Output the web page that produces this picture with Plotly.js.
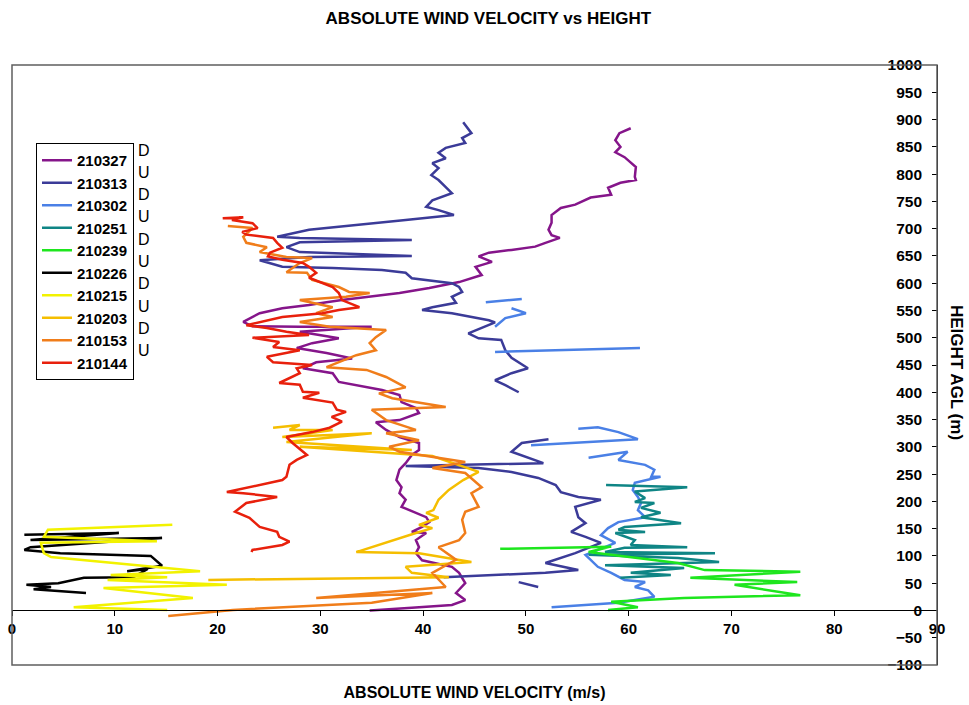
<!DOCTYPE html>
<html>
<head>
<meta charset="utf-8">
<script src="https://cdn.plot.ly/plotly-3.0.1.min.js"></script>
<style>html,body{margin:0;padding:0;background:#fff;}#chart{width:969px;height:705px;}</style>
</head>
<body>
<div id="chart"></div>
<script>
// ---- data (velocity m/s, height m) ----
const seriesNames = ['210327','210313','210302','210251','210239','210226','210215','210203','210153','210144'];
const dirLabels = ['D','U','D','U','D','U','D','U','D','U'];

const vel_210327 = [60.2,59.1,58.7,59.2,58.7,59.6,60.7,60.6,60.7,59.2,58.0,58.3,56.3,54.8,53.4,52.5,52.5,52.2,52.5,53.3,51.9,50.9,48.6,46.4,45.4,46.7,45.1,45.7,43.5,40.6,37.7,34.5,32.1,30.6,28.9,26.3,24.1,22.5,23.4,28.0,35.0,28.0,31.8,29.2,27.7,30.6,33.1,29.6,28.3,31.2,31.8,36.0,37.7,37.9,39.3,39.6,37.7,35.4,36.4,37.7,39.6,39.6,38.9,38.3,37.7,37.4,37.9,37.7,38.3,37.9,39.3,40.3,40.6,39.9,38.9,40.3,39.3,39.6,39.3,39.9,42.8,43.5,44.1,43.2,44.1,42.8,38.9,34.8];
const hgt_210327 = [884,875,862,850,840,831,813,795,789,784,775,762,757,744,738,725,711,698,688,683,674,667,661,656,649,639,630,615,602,591,582,575,569,565,560,554,545,529,521,520,520,511,499,490,481,472,462,455,444,435,419,404,395,382,371,362,349,345,331,318,307,294,285,270,258,239,226,215,203,190,179,171,162,153,144,142,129,116,105,92,80,69,50,32,19,10,5,0];

const vel_210313 = [43.9,44.7,43.8,44.1,42.2,41.5,42.2,40.9,41.5,40.8,41.5,42.2,42.8,40.9,40.3,41.5,43.0,38.3,33.8,28.9,25.8,28.0,38.9,28.0,26.7,28.0,38.9,28.9,24.1,26.3,31.2,36.0,38.3,38.9,42.8,43.5,43.8,42.8,43.2,40.9,39.9,42.8,46.4,47.0,44.4,45.4,47.6,48.0,48.6,50.2,48.6,47.0,48.0,49.3,null,52.2,49.6,48.6,50.0,51.7,38.3,45.4,48.6,51.2,52.9,53.4,55.1,57.3,54.8,55.1,55.8,54.4,55.8,57.3,54.8,51.9,55.1,51.9,42.0,null,49.3,51.2];
const hgt_210313 = [895,875,866,857,848,839,829,820,811,798,789,776,765,752,740,734,725,716,707,698,685,683,679,675,666,657,650,648,642,630,628,624,619,609,600,593,584,575,564,556,551,545,532,528,508,499,496,477,463,444,435,422,413,400,null,314,307,291,281,270,265,261,254,243,230,217,208,203,190,171,160,144,135,124,105,87,74,69,61,null,52,43];

const vel_210302 = [46.1,49.6,null,48.6,50.0,48.0,47.0,null,47.0,61.1,null,55.1,57.0,59.0,60.9,50.5,null,56.1,59.9,59.0,61.6,62.5,62.2,63.1,60.6,60.4,60.9,61.2,60.9,61.6,59.0,58.0,57.3,58.7,57.7,55.8,57.0,58.3,59.6,61.6,60.6,61.9,62.5,59.0,52.5];
const hgt_210302 = [565,571,null,554,545,536,520,null,474,481,null,333,336,327,314,303,null,280,291,276,267,258,245,245,234,221,208,197,184,171,162,151,138,124,116,102,80,69,56,52,43,37,25,14,6];

const vel_210251 = [57.8,65.7,60.6,61.6,60.6,62.5,61.2,63.1,61.2,65.1,59.6,59.0,61.6,58.7,60.6,60.2,65.7,59.6,57.7,68.4,56.1,64.8,68.8,57.7,65.4,60.2,64.1,59.2];
const hgt_210251 = [230,226,218,206,199,197,188,179,171,160,153,148,144,142,129,120,116,115,107,105,102,96,89,83,78,69,65,60];

const vel_210239 = [47.5,58.3,56.1,59.9,64.8,67.4,76.7,66.0,76.4,70.3,73.5,76.7,65.4,58.3,60.9,58.0];
const hgt_210239 = [113,117,107,98,87,74,71,60,52,47,37,28,23,16,6,1];

const vel_210226 = [1.2,10.4,1.8,14.6,1.8,1.2,4.7,13.5,14.6,11.2,13.2,11.8,7.0,4.5,1.4,3.8,2.1,7.2];
const hgt_210226 = [139,142,129,133,116,111,105,100,82,72,76,61,60,50,47,43,39,32];

const vel_210215 = [15.6,3.5,3.1,14.1,2.8,3.1,3.8,14.4,18.3,9.6,15.1,9.3,20.9,8.9,17.6,6.0,15.1];
const hgt_210215 = [157,148,135,127,124,105,98,80,72,65,61,56,47,41,23,6,1];

const vel_210203 = [25.4,28.0,27.0,31.2,26.3,35.0,26.7,38.9,28.0,40.9,45.4,43.9,42.5,41.5,41.0,40.3,41.5,39.6,40.9,39.3,33.5,39.6,44.7,38.3,38.9,42.5,19.1];
const hgt_210203 = [335,340,331,331,318,325,309,294,300,283,254,239,221,203,184,179,170,157,151,142,107,105,89,80,69,61,56];

const vel_210153 = [21.0,23.4,22.5,22.8,24.8,24.1,26.7,29.2,28.0,26.7,28.7,29.2,31.8,32.8,34.8,32.5,28.0,31.2,29.6,31.2,28.0,30.9,36.4,35.4,34.8,35.4,33.5,30.6,34.5,36.4,38.3,35.7,37.0,42.2,35.0,36.4,39.3,36.4,39.6,36.7,37.7,44.1,40.9,44.1,45.7,44.7,45.4,44.1,43.8,44.1,43.5,41.5,43.2,40.9,42.2,29.6,40.9,35.0,21.5,18.3,15.2];
const hgt_210153 = [705,701,685,674,666,657,648,646,637,620,619,606,593,584,582,575,569,556,545,538,529,520,514,501,490,477,468,446,441,428,409,398,389,373,368,349,331,325,312,300,291,272,261,252,226,215,190,181,166,142,129,116,93,69,43,23,32,14,1,-5,-10];

const vel_210144 = [20.5,22.5,21.4,23.4,23.9,22.4,22.8,25.4,25.8,26.3,25.1,24.9,26.3,28.3,28.9,29.6,28.9,29.9,31.2,31.8,32.1,33.8,31.8,30.2,26.3,22.8,24.8,26.7,28.9,23.4,26.0,25.4,28.0,24.8,25.4,29.2,27.7,28.0,26.0,28.0,28.3,29.9,28.3,31.2,31.6,32.5,31.1,32.1,30.9,29.2,26.7,27.3,28.7,27.7,27.0,26.7,26.3,20.9,22.5,25.8,22.8,21.7,23.1,24.1,25.8,26.0,27.0,26.3,23.4,23.3];
const hgt_210144 = [719,721,716,710,701,694,689,683,674,665,656,649,643,637,630,619,610,602,593,582,569,556,551,545,538,523,518,511,505,500,492,483,477,465,455,450,444,435,417,414,401,399,390,381,368,364,355,346,335,327,318,307,285,276,267,245,239,217,215,208,197,181,170,153,144,135,126,120,111,107];

const xTickVals = [0,10,20,30,40,50,60,70,80,90];

// ---- styling ----
const colors = ['#85158a','#3b3b98','#4a80e6','#0f8585','#1ee61e','#000000','#f2f200','#f5be00','#f07d1a','#e8200c'];
const velData = [vel_210327,vel_210313,vel_210302,vel_210251,vel_210239,vel_210226,vel_210215,vel_210203,vel_210153,vel_210144];
const hgtData = [hgt_210327,hgt_210313,hgt_210302,hgt_210251,hgt_210239,hgt_210226,hgt_210215,hgt_210203,hgt_210153,hgt_210144];

const FONT = 'Liberation Sans, Arial, sans-serif';

const traces = seriesNames.map((n, i) => ({
  type: 'scatter', mode: 'lines', name: n, legendgroup: n,
  x: velData[i], y: hgtData[i],
  line: {color: colors[i], width: 2.5},
  connectgaps: false, hoverinfo: 'skip'
}));

// plot area in pixels: left 12, right 937, top 65, bottom 665
const annotations = dirLabels.map((t, i) => ({
  text: t, xref: 'paper', yref: 'paper',
  x: (144 - 12) / 925, y: (665 - (150 + i * 22.3)) / 600,
  xanchor: 'center', yanchor: 'middle', showarrow: false,
  font: {family: FONT, size: 16, color: '#000'}
}));
annotations.push({
  text: 'HEIGHT AGL (m)', xref: 'paper', yref: 'paper',
  x: (957 - 12) / 925, y: (665 - 372) / 600, textangle: 90,
  xanchor: 'center', yanchor: 'middle', showarrow: false,
  font: {family: FONT, size: 17, weight: 'bold', color: '#000'}
});

const layout = {
  width: 969, height: 705,
  margin: {l: 12, r: 32, t: 65, b: 40, pad: 0},
  paper_bgcolor: '#fff', plot_bgcolor: '#fff',
  font: {family: FONT, color: '#000'},
  title: {
    text: 'ABSOLUTE WIND VELOCITY vs HEIGHT',
    font: {family: FONT, size: 17, weight: 'bold', color: '#000'},
    x: 0.504, xref: 'container', xanchor: 'center',
    y: 1 - 18 / 705, yref: 'container', yanchor: 'middle'
  },
  xaxis: {
    range: [0, 90], tickvals: xTickVals, ticktext: xTickVals.map(String),
    anchor: 'free', position: 100 / 1100,
    showline: true, linecolor: '#000', linewidth: 1,
    ticks: 'outside', ticklen: 5, tickcolor: '#000',
    ticklabeloverflow: 'allow',
    showgrid: false, zeroline: false,
    tickfont: {family: FONT, size: 15, weight: 'bold', color: '#000'},
    title: {text: 'ABSOLUTE WIND VELOCITY (m/s)', standoff: 50,
            font: {family: FONT, size: 16, weight: 'bold', color: '#000'}}
  },
  yaxis: {
    range: [-100, 1000], dtick: 50, tick0: 0,
    side: 'right', ticks: 'inside', ticklabelposition: 'inside',
    ticklabeloverflow: 'allow', ticklabelstandoff: 10,
    ticklen: 5, tickcolor: '#000',
    showline: true, linecolor: '#000', linewidth: 1,
    showgrid: false, zeroline: false,
    tickfont: {family: FONT, size: 15.5, weight: 'bold', color: '#000'}
  },
  legend: {
    x: (36 - 12) / 925, y: (665 - 143) / 600, xanchor: 'left', yanchor: 'top',
    bgcolor: '#fff', bordercolor: '#000', borderwidth: 1,
    font: {family: FONT, size: 15, weight: 'bold', color: '#000'},
    tracegroupgap: 4, traceorder: 'normal'
  },
  shapes: [{
    type: 'rect', xref: 'paper', yref: 'paper', x0: 0, x1: 1, y0: 0, y1: 1,
    line: {color: '#5f5f5f', width: 1.5}
  }],
  annotations: annotations
};

Plotly.newPlot('chart', traces, layout, {displayModeBar: false, staticPlot: true});
</script>
</body>
</html>
